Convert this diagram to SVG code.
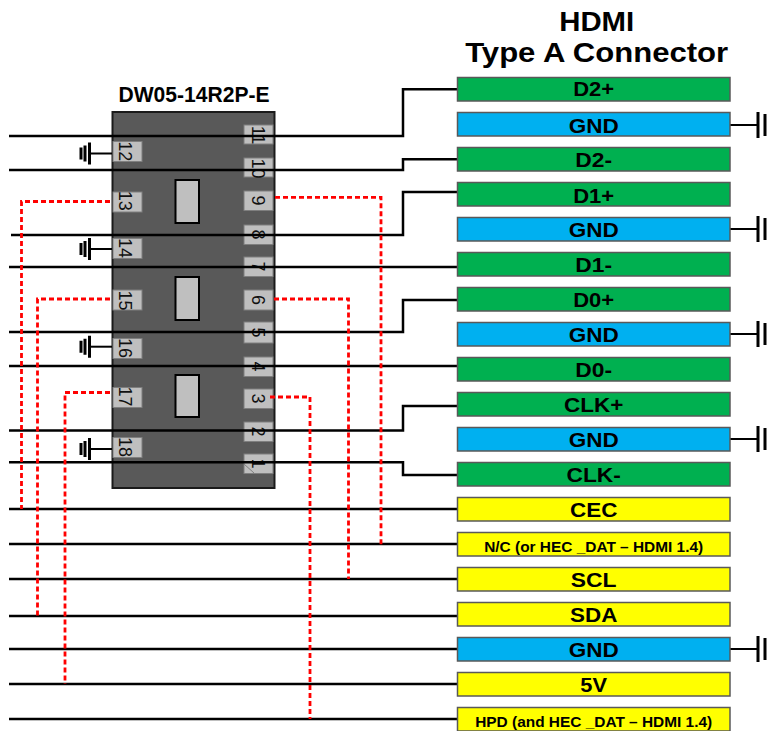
<svg xmlns="http://www.w3.org/2000/svg" xmlns:xlink="http://www.w3.org/1999/xlink" width="767" height="731" viewBox="0 0 767 731">
<style>
text{font-family:"Liberation Sans",Arial,sans-serif;fill:#000}
.title{font-weight:bold;text-anchor:middle}
.box{stroke:#595959;stroke-width:1.5}
.g{fill:#00b050}.b{fill:#00b0f0}.y{fill:#ffff00}
.lbl{font-weight:bold;font-size:20px;text-anchor:middle}
.sm{font-weight:bold;font-size:15px;text-anchor:middle}
.pin{fill:#bfbfbf;stroke:#7f7f7f;stroke-width:1}
.pt{font-size:18px;text-anchor:middle;fill:#111}
.w{fill:none;stroke:#000;stroke-width:2.5}
.r{fill:none;stroke:#f00;stroke-width:2.800;stroke-dasharray:5 3}
.gl{fill:none;stroke:#000;stroke-width:2}
.gb{fill:none;stroke:#000;stroke-width:3}
</style>
<defs>
<g id="gl"><path class="gl" d="M0 0H-22"/><path class="gb" d="M-22.500-11V11M-27-8V8M-31-6V6"/></g>
<g id="gr"><path class="gl" d="M0 0H28"/><path class="gb" d="M28-13V13M35-11V11"/></g>
</defs>
<text class="title" x="596.7" y="30.500" font-size="27" textLength="75" lengthAdjust="spacingAndGlyphs">HDMI</text>
<text class="title" x="596.7" y="62" font-size="27" textLength="263" lengthAdjust="spacingAndGlyphs">Type A Connector</text>
<text class="title" x="194" y="101.500" font-size="22" textLength="151" lengthAdjust="spacingAndGlyphs">DW05-14R2P-E</text>

<g id="chip">
<rect x="112.5" y="112" width="162" height="376" fill="#595959" stroke="#1a1a1a" stroke-width="2"/>
<rect x="175.5" y="180" width="23.500" height="43" fill="#bfbfbf" stroke="#000" stroke-width="2"/>
<rect x="175.5" y="277" width="23.500" height="43" fill="#bfbfbf" stroke="#000" stroke-width="2"/>
<rect x="175.5" y="375" width="23.500" height="42" fill="#bfbfbf" stroke="#000" stroke-width="2"/>
</g>
<g id="pin-12"><rect class="pin" x="113" y="141.5" width="29" height="20"/><text class="pt" transform="translate(119 151.300) rotate(90)">12</text></g>
<g id="pin-13"><rect class="pin" x="113" y="192" width="29" height="20"/><text class="pt" transform="translate(119 200.700) rotate(90)">13</text></g>
<g id="pin-14"><rect class="pin" x="113" y="238.5" width="29" height="20"/><text class="pt" transform="translate(119 248) rotate(90)">14</text></g>
<g id="pin-15"><rect class="pin" x="113" y="290" width="29" height="20"/><text class="pt" transform="translate(119 300.500) rotate(90)">15</text></g>
<g id="pin-16"><rect class="pin" x="113" y="338.5" width="29" height="20"/><text class="pt" transform="translate(119 348) rotate(90)">16</text></g>
<g id="pin-17"><rect class="pin" x="113" y="387.5" width="29" height="20"/><text class="pt" transform="translate(119 396.500) rotate(90)">17</text></g>
<g id="pin-18"><rect class="pin" x="113" y="437.5" width="29" height="20"/><text class="pt" transform="translate(119 447) rotate(90)">18</text></g>
<g id="pin-11"><rect class="pin" x="244" y="125" width="29" height="19"/><text class="pt" transform="translate(251.500 135) rotate(90)">11</text></g>
<g id="pin-10"><rect class="pin" x="244" y="158" width="29" height="19"/><text class="pt" transform="translate(251.500 168.500) rotate(90)">10</text></g>
<g id="pin-9"><rect class="pin" x="244" y="191" width="29" height="19.500"/><text class="pt" transform="translate(251.500 200.500) rotate(90)">9</text></g>
<g id="pin-8"><rect class="pin" x="244" y="225" width="29" height="19.500"/><text class="pt" transform="translate(251.500 234.500) rotate(90)">8</text></g>
<g id="pin-7"><rect class="pin" x="244" y="257" width="29" height="19.500"/><text class="pt" transform="translate(251.500 266.500) rotate(90)">7</text></g>
<g id="pin-6"><rect class="pin" x="244" y="290" width="29" height="20"/><text class="pt" transform="translate(251.500 300) rotate(90)">6</text></g>
<g id="pin-5"><rect class="pin" x="244" y="322" width="29" height="21"/><text class="pt" transform="translate(251.500 332.500) rotate(90)">5</text></g>
<g id="pin-4"><rect class="pin" x="244" y="357" width="29" height="19.500"/><text class="pt" transform="translate(251.500 366.500) rotate(90)">4</text></g>
<g id="pin-3"><rect class="pin" x="244" y="389" width="29" height="19.500"/><text class="pt" transform="translate(251.500 398.500) rotate(90)">3</text></g>
<g id="pin-2"><rect class="pin" x="244" y="422" width="29" height="19.500"/><text class="pt" transform="translate(251.500 431.500) rotate(90)">2</text></g>
<g id="pin-1"><rect class="pin" x="244" y="454" width="29" height="19.500"/><text class="pt" transform="translate(251.500 463.500) rotate(90)">1</text><path d="M244 464L254 473" stroke="#7f7f7f" fill="none"/></g>

<g id="connectors">
<path class="w" d="M9 136H403V89.300H457"/>
<path class="w" d="M9 170H403V159.300H457"/>
<path class="w" d="M11 235H403V192H457"/>
<path class="w" d="M9 267H457"/>
<path class="w" d="M9 332H403V300H457"/>
<path class="w" d="M9 366H457"/>
<path class="w" d="M9 430.500H403V406H457"/>
<path class="w" d="M9 462.300H403V475H457"/>
<path class="w" d="M9 509H457"/>
<path class="w" d="M9 544H457"/>
<path class="w" d="M9 579H457"/>
<path class="w" d="M9 616H457"/>
<path class="w" d="M9 649H457"/>
<path class="w" d="M9 684H457"/>
<path class="w" d="M9 719H457"/>
<path class="r" d="M110 201.500H21.500V509"/>
<path class="r" d="M110 299H37.500V616"/>
<path class="r" d="M110 392.500H65V684"/>
<path class="r" d="M275 197.300H381V547"/>
<path class="r" d="M274 299H348.500V579"/>
<path class="r" d="M270 397H310V719"/>
<use xlink:href="#gl" href="#gl" x="112" y="153.500"/>
<use xlink:href="#gl" href="#gl" x="112" y="249"/>
<use xlink:href="#gl" href="#gl" x="112" y="346.700"/>
<use xlink:href="#gl" href="#gl" x="112" y="449"/>
<use xlink:href="#gr" href="#gr" x="730" y="125"/>
<use xlink:href="#gr" href="#gr" x="730" y="229"/>
<use xlink:href="#gr" href="#gr" x="730" y="334"/>
<use xlink:href="#gr" href="#gr" x="730" y="439"/>
<use xlink:href="#gr" href="#gr" x="730" y="649"/>
</g>

<g id="d2p"><rect class="box g" x="457.5" y="77.500" width="272.500" height="23.500"/><text class="lbl" x="593.7" y="95.500" textLength="41" lengthAdjust="spacingAndGlyphs">D2+</text></g>
<g id="gnd1"><rect class="box b" x="457.5" y="112.500" width="272.500" height="23.500"/><text class="lbl" x="593.7" y="132.500" textLength="50" lengthAdjust="spacingAndGlyphs">GND</text></g>
<g id="d2m"><rect class="box g" x="457.5" y="147.500" width="272.500" height="23.500"/><text class="lbl" x="593.7" y="167.300" textLength="36.700" lengthAdjust="spacingAndGlyphs">D2-</text></g>
<g id="d1p"><rect class="box g" x="457.5" y="182.500" width="272.500" height="23.500"/><text class="lbl" x="593.7" y="202.500" textLength="41" lengthAdjust="spacingAndGlyphs">D1+</text></g>
<g id="gnd2"><rect class="box b" x="457.5" y="217.500" width="272.500" height="23.500"/><text class="lbl" x="593.7" y="237.300" textLength="50" lengthAdjust="spacingAndGlyphs">GND</text></g>
<g id="d1m"><rect class="box g" x="457.5" y="252.500" width="272.500" height="23.500"/><text class="lbl" x="593.7" y="272.300" textLength="36.700" lengthAdjust="spacingAndGlyphs">D1-</text></g>
<g id="d0p"><rect class="box g" x="457.5" y="287.500" width="272.500" height="23.500"/><text class="lbl" x="593.7" y="307.300" textLength="41" lengthAdjust="spacingAndGlyphs">D0+</text></g>
<g id="gnd3"><rect class="box b" x="457.5" y="322.500" width="272.500" height="23.500"/><text class="lbl" x="593.7" y="342" textLength="50" lengthAdjust="spacingAndGlyphs">GND</text></g>
<g id="d0m"><rect class="box g" x="457.5" y="357.500" width="272.500" height="23.500"/><text class="lbl" x="593.7" y="377" textLength="36.700" lengthAdjust="spacingAndGlyphs">D0-</text></g>
<g id="clkp"><rect class="box g" x="457.5" y="392.500" width="272.500" height="23.500"/><text class="lbl" x="593.7" y="412.300" textLength="59.300" lengthAdjust="spacingAndGlyphs">CLK+</text></g>
<g id="gnd4"><rect class="box b" x="457.5" y="427.500" width="272.500" height="23.500"/><text class="lbl" x="593.7" y="447.300" textLength="50" lengthAdjust="spacingAndGlyphs">GND</text></g>
<g id="clkm"><rect class="box g" x="457.5" y="462.500" width="272.500" height="23.500"/><text class="lbl" x="593.7" y="482.300" textLength="54.300" lengthAdjust="spacingAndGlyphs">CLK-</text></g>
<g id="cec"><rect class="box y" x="457.5" y="497.500" width="272.500" height="23.500"/><text class="lbl" x="593.7" y="517" textLength="47.300" lengthAdjust="spacingAndGlyphs">CEC</text></g>
<g id="nc"><rect class="box y" x="457.5" y="532.500" width="272.500" height="23.500"/><text class="sm" x="593.7" y="552.300" textLength="219" lengthAdjust="spacingAndGlyphs">N/C (or HEC _DAT – HDMI 1.4)</text></g>
<g id="scl"><rect class="box y" x="457.5" y="567.500" width="272.500" height="23.500"/><text class="lbl" x="593.7" y="586.700" textLength="45.700" lengthAdjust="spacingAndGlyphs">SCL</text></g>
<g id="sda"><rect class="box y" x="457.5" y="602.500" width="272.500" height="23.500"/><text class="lbl" x="593.7" y="622" textLength="47.300" lengthAdjust="spacingAndGlyphs">SDA</text></g>
<g id="gnd5"><rect class="box b" x="457.5" y="637.500" width="272.500" height="23.500"/><text class="lbl" x="593.7" y="656.500" textLength="50" lengthAdjust="spacingAndGlyphs">GND</text></g>
<g id="v5"><rect class="box y" x="457.5" y="672.500" width="272.500" height="23.500"/><text class="lbl" x="593.7" y="692" textLength="26.700" lengthAdjust="spacingAndGlyphs">5V</text></g>
<g id="hpd"><rect class="box y" x="457.5" y="707.500" width="272.500" height="23.500"/><text class="sm" x="593.7" y="727" textLength="237" lengthAdjust="spacingAndGlyphs">HPD (and HEC _DAT – HDMI 1.4)</text></g>
</svg>
